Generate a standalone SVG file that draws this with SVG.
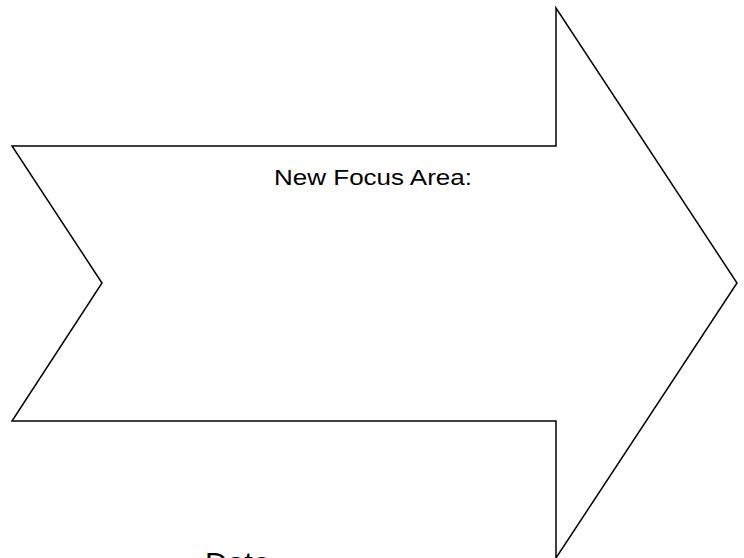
<svg xmlns="http://www.w3.org/2000/svg" width="744" height="558" viewBox="0 0 744 558">
<style>
.shape{fill:#ffffff;stroke:#000000;stroke-width:1.5;stroke-linejoin:miter}
.lbl{font-family:"Liberation Sans","Open Sans",sans-serif;fill:#000000}
</style>
<rect width="744" height="558" fill="#ffffff"/>
<g id="arrow">
<polygon class="shape" points="12,146 556,146 556,8 737,283 556,558 556,421 12,421 102,283"/>
<text class="lbl" x="274" y="185" font-size="22" textLength="198" lengthAdjust="spacingAndGlyphs">New Focus Area:</text>
</g>
<g id="date">
<text class="lbl" x="205" y="573" font-size="30" textLength="65" lengthAdjust="spacingAndGlyphs">Date</text>
</g>
<g id="connectors"></g>
</svg>
